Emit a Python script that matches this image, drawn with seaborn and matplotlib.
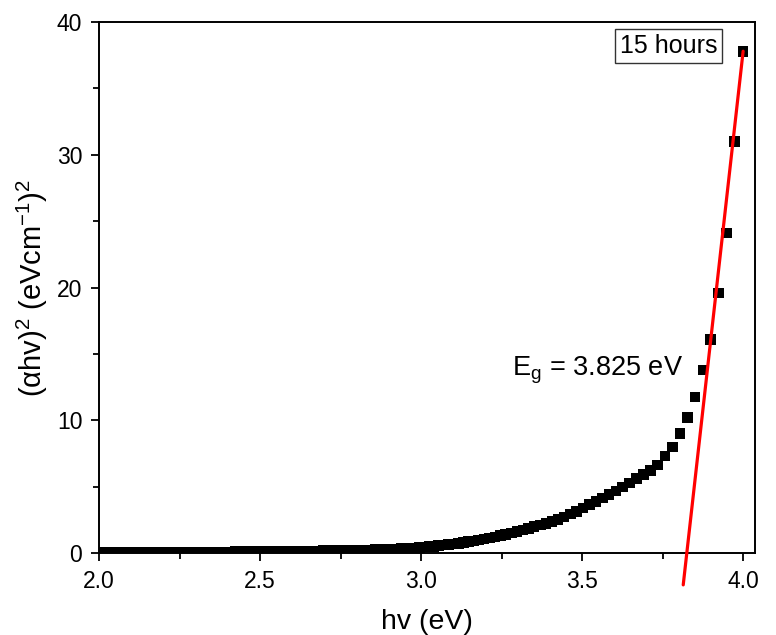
import matplotlib
matplotlib.use("Agg")
import matplotlib.pyplot as plt
from matplotlib.ticker import MultipleLocator
import seaborn as sns
import pandas as pd

# ---- data ----
hv = [2.000, 2.006, 2.013, 2.020, 2.026, 2.033, 2.039, 2.046, 2.053, 2.060,
      2.067, 2.074, 2.081, 2.088, 2.095, 2.102, 2.109, 2.116, 2.123, 2.131,
      2.138, 2.145, 2.153, 2.160, 2.168, 2.175, 2.183, 2.191, 2.199, 2.206,
      2.214, 2.222, 2.230, 2.238, 2.246, 2.255, 2.263, 2.271, 2.279, 2.288,
      2.296, 2.305, 2.313, 2.322, 2.331, 2.340, 2.348, 2.357, 2.366, 2.375,
      2.385, 2.394, 2.403, 2.412, 2.422, 2.431, 2.441, 2.451, 2.460, 2.470,
      2.480, 2.490, 2.500, 2.510, 2.520, 2.531, 2.541, 2.551, 2.562, 2.573,
      2.583, 2.594, 2.605, 2.616, 2.627, 2.638, 2.650, 2.661, 2.672, 2.684,
      2.696, 2.707, 2.719, 2.731, 2.743, 2.756, 2.768, 2.780, 2.793, 2.805,
      2.818, 2.831, 2.844, 2.857, 2.870, 2.884, 2.897, 2.911, 2.925, 2.938,
      2.952, 2.967, 2.981, 2.995, 3.010, 3.024, 3.039, 3.054, 3.069, 3.085,
      3.100, 3.116, 3.131, 3.147, 3.163, 3.179, 3.196, 3.212, 3.229, 3.246,
      3.263, 3.280, 3.298, 3.316, 3.333, 3.351, 3.370, 3.388, 3.407, 3.425,
      3.444, 3.464, 3.483, 3.503, 3.523, 3.543, 3.563, 3.584, 3.605, 3.626,
      3.647, 3.669, 3.690, 3.713, 3.735, 3.758, 3.780, 3.804, 3.827, 3.851,
      3.875, 3.899, 3.924, 3.949, 3.974, 4.000]

ahv2 = [0.07, 0.07, 0.07, 0.07, 0.07, 0.07, 0.07, 0.07, 0.07, 0.07,
        0.07, 0.07, 0.07, 0.07, 0.07, 0.07, 0.07, 0.07, 0.07, 0.07,
        0.07, 0.07, 0.07, 0.07, 0.07, 0.07, 0.07, 0.07, 0.08, 0.08,
        0.08, 0.08, 0.08, 0.08, 0.08, 0.08, 0.08, 0.08, 0.08, 0.08,
        0.08, 0.08, 0.09, 0.09, 0.09, 0.09, 0.09, 0.09, 0.09, 0.09,
        0.09, 0.09, 0.09, 0.09, 0.10, 0.10, 0.10, 0.10, 0.10, 0.10,
        0.11, 0.11, 0.11, 0.11, 0.11, 0.12, 0.12, 0.12, 0.12, 0.13,
        0.13, 0.13, 0.14, 0.14, 0.14, 0.15, 0.15, 0.15, 0.16, 0.16,
        0.17, 0.17, 0.18, 0.18, 0.19, 0.19, 0.20, 0.20, 0.21, 0.22,
        0.22, 0.23, 0.24, 0.25, 0.26, 0.27, 0.28, 0.30, 0.31, 0.33,
        0.35, 0.37, 0.39, 0.42, 0.45, 0.48, 0.51, 0.55, 0.59, 0.63,
        0.68, 0.73, 0.79, 0.85, 0.91, 0.98, 1.05, 1.13, 1.22, 1.31,
        1.41, 1.51, 1.62, 1.74, 1.86, 1.98, 2.11, 2.24, 2.38, 2.53,
        2.72, 2.94, 3.12, 3.38, 3.65, 3.90, 4.15, 4.40, 4.66, 4.97,
        5.28, 5.60, 5.90, 6.22, 6.63, 7.30, 7.98, 9.00, 10.2, 11.75,
        13.8, 16.1, 19.6, 24.1, 31.0, 37.8]

fit_x = [3.814, 4.000]
fit_y = [-2.4, 37.8]

eg_label = r"E$_\mathregular{g}$ = 3.825 eV"
sample_label = "15 hours"
x_ticks = [2.0, 2.5, 3.0, 3.5, 4.0]
y_ticks = [0, 10, 20, 30, 40]

df = pd.DataFrame({"hv": hv, "ahv2": ahv2})
fit_df = pd.DataFrame({"x": fit_x, "y": fit_y})

sns.set_style("ticks")
plt.rcParams["font.family"] = ["Liberation Sans", "DejaVu Sans"]
plt.rcParams["mathtext.default"] = "regular"
plt.rcParams["text.color"] = "black"
plt.rcParams["axes.labelcolor"] = "black"
plt.rcParams["xtick.color"] = "black"
plt.rcParams["ytick.color"] = "black"

fig = plt.figure(figsize=(7.76, 6.35), dpi=100)
ax = fig.add_axes([0.1276, 0.1291, 0.8454, 0.8362])

sns.scatterplot(data=df, x="hv", y="ahv2", marker="s", s=58, color="black",
                edgecolor="none", linewidth=0, ax=ax, zorder=3)
sns.lineplot(data=fit_df, x="x", y="y", color="#ff0000", linewidth=2.3,
             ax=ax, clip_on=False, zorder=4)

ax.set_xlim(2.0, 4.037)
ax.set_ylim(0, 40)
ax.set_xticks(x_ticks)
ax.set_yticks(y_ticks)
ax.set_xticklabels([f"{v:.1f}" for v in x_ticks])
ax.set_yticklabels([str(v) for v in y_ticks])
ax.xaxis.set_minor_locator(MultipleLocator(0.25))
ax.yaxis.set_minor_locator(MultipleLocator(5))
ax.tick_params(which="major", direction="out", length=6, width=1.3,
               labelsize=16.5, pad=6, colors="black")
ax.tick_params(which="minor", direction="out", length=4, width=1.3)
for sp in ax.spines.values():
    sp.set_visible(True)
    sp.set_linewidth(1.4)
    sp.set_color("black")

ax.set_xlabel("hv (eV)", fontsize=20.5, labelpad=12)
ax.set_ylabel(r"($\alpha$hv)$^2$ (eVcm$^{-1}$)$^2$", fontsize=21, labelpad=5)

ax.text(3.283, 13.4, eg_label, fontsize=19.5, ha="left", va="baseline")
ax.text(0.868, 0.954, sample_label, transform=ax.transAxes, fontsize=18,
        ha="center", va="center",
        bbox=dict(boxstyle="square,pad=0.2", facecolor="white",
                  edgecolor="#333333", linewidth=1.0))

fig.savefig("out.png", dpi=100)
